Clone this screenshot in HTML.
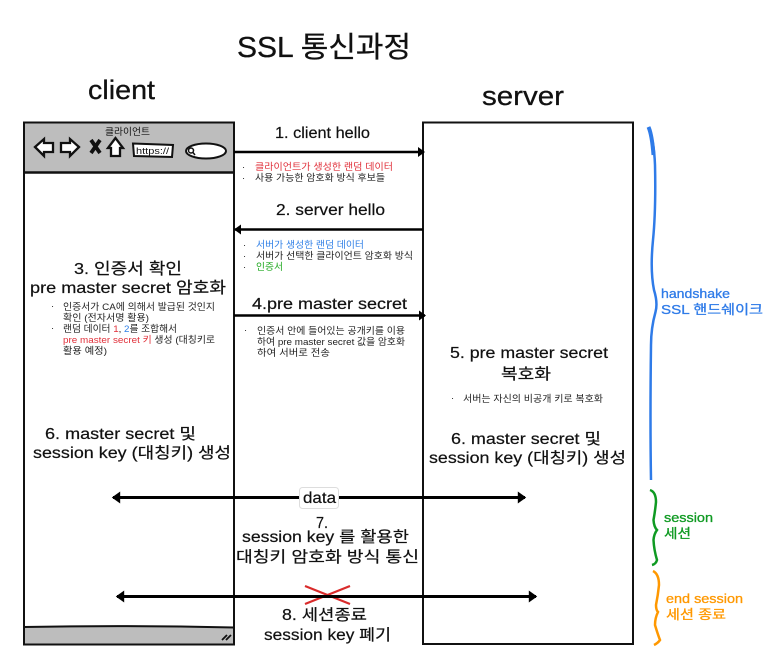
<!DOCTYPE html>
<html><head><meta charset="utf-8"><style>
html,body{margin:0;padding:0;background:#fff;width:772px;height:663px;overflow:hidden}
svg{display:block}
text{font-family:"Liberation Sans","Noto Sans CJK KR",sans-serif;fill:#111}
.s{font-size:9.5px;fill:#222}
.m{font-size:15.5px;stroke:#111;stroke-width:.2px}
.t{stroke:#111;stroke-width:.3px}
.b{stroke:#2f7be8;stroke-width:.3px;fill:#2f7be8}
.g{stroke:#0f9a22;stroke-width:.3px;fill:#0f9a22}
.o{stroke:#ff9800;stroke-width:.3px;fill:#ff9800}
</style></head><body>
<svg width="772" height="663" viewBox="0 0 772 663" xmlns="http://www.w3.org/2000/svg">
<defs>
<marker id="h" markerWidth="5" markerHeight="5" refX="3.600" refY="2.500" orient="auto-start-reverse" markerUnits="strokeWidth"><path d="M1.200 .5L4 2.500L1.200 4.500z" fill="#000"/></marker>
</defs>
<!-- titles -->
<text class="t" x="237" y="57" font-size="29" textLength="174" lengthAdjust="spacingAndGlyphs">SSL 통신과정</text>
<text class="t" x="88" y="99" font-size="27" textLength="67" lengthAdjust="spacingAndGlyphs">client</text>
<text class="t" x="482" y="105" font-size="27" textLength="82" lengthAdjust="spacingAndGlyphs">server</text>
<!-- client box -->
<rect x="24" y="122.500" width="210" height="50" fill="#bdbdbd"/>
<rect x="24" y="627" width="210" height="18" fill="#bdbdbd"/>
<rect x="24" y="122.500" width="210" height="522" fill="none" stroke="#111" stroke-width="2"/>
<path d="M24 172.500H234" stroke="#111" stroke-width="2.500"/>
<path d="M24 627Q130 625 234 627.500" stroke="#111" stroke-width="2" fill="none"/>
<path d="M222 640L227 635M226 640L231 635" stroke="#111" stroke-width="1.800"/>
<!-- header icons -->
<text x="105" y="135" font-size="9.500" textLength="45" lengthAdjust="spacingAndGlyphs" fill="#333">클라이언트</text>
<path d="M35 147L44 139V143H53V152H44V156z" fill="#fff" stroke="#111" stroke-width="2.300"/>
<path d="M79 147L70 139V143H61V152H70V156z" fill="#fff" stroke="#111" stroke-width="2.300"/>
<path d="M91 140L100 153M100 140L91 153" stroke="#111" stroke-width="3.800"/>
<path d="M115.500 138L108 148H111V156H120V148H123z" fill="#fff" stroke="#111" stroke-width="2.300"/>
<path d="M133 143.500L173 145L172 157L134 156z" fill="#fff" stroke="#111" stroke-width="2"/>
<text x="136" y="154" font-size="9.500" textLength="33" lengthAdjust="spacingAndGlyphs">https://</text>
<ellipse cx="206" cy="151" rx="20" ry="7.500" fill="#fff" stroke="#111" stroke-width="2"/>
<circle cx="191" cy="150.500" r="2.500" fill="none" stroke="#111" stroke-width="1.500"/>
<path d="M193 152.500L195 155" stroke="#111" stroke-width="1.500"/>
<!-- server box -->
<rect x="423" y="122.500" width="210" height="521.500" fill="#fff" stroke="#111" stroke-width="2"/>
<!-- left box line redraw -->
<path d="M234 122V645" stroke="#111" stroke-width="2"/>
<!-- arrows -->
<path d="M234 152H424" stroke="#000" stroke-width="2.500" marker-end="url(#h)"/>
<path d="M423 229.500H235" stroke="#000" stroke-width="2.500" marker-end="url(#h)"/>
<path d="M234 315.500H425" stroke="#000" stroke-width="2.500" marker-end="url(#h)"/>
<path d="M113 497.500H525" stroke="#000" stroke-width="3" marker-start="url(#h)" marker-end="url(#h)"/>
<path d="M117 596.500H536" stroke="#000" stroke-width="3" marker-start="url(#h)" marker-end="url(#h)"/>
<path d="M305 586L350 604M305 604L350 586" stroke="#d92b2b" stroke-width="2.200"/>
<path d="M234 596.500H423" stroke="#000" stroke-width="3"/>
<rect x="299.500" y="487.500" width="39" height="21" rx="3" fill="#fff" stroke="#ddd"/>
<text x="303" y="503" class="m" font-size="15" textLength="33" lengthAdjust="spacingAndGlyphs">data</text>
<!-- message labels -->
<text class="m" x="275" y="138" textLength="95" lengthAdjust="spacingAndGlyphs">1. client hello</text>
<text class="m" x="276" y="215" textLength="109" lengthAdjust="spacingAndGlyphs">2. server hello</text>
<text class="m" x="252" y="309" textLength="155" lengthAdjust="spacingAndGlyphs">4.pre master secret</text>
<text class="s" x="242" y="170">·</text>
<text class="s" x="255" y="170" textLength="138" lengthAdjust="spacingAndGlyphs" style="fill:#e0303a">클라이언트가 생성한 랜덤 데이터</text>
<text class="s" x="242" y="181">·</text>
<text class="s" x="255" y="181" textLength="130" lengthAdjust="spacingAndGlyphs">사용 가능한 암호화 방식 후보들</text>
<text class="s" x="243" y="248">·</text>
<text class="s" x="256" y="248" textLength="108" lengthAdjust="spacingAndGlyphs" style="fill:#2f7fe6">서버가 생성한 랜덤 데이터</text>
<text class="s" x="243" y="259">·</text>
<text class="s" x="256" y="259" textLength="157" lengthAdjust="spacingAndGlyphs">서버가 선택한 클라이언트 암호화 방식</text>
<text class="s" x="243" y="270">·</text>
<text class="s" x="256" y="270" textLength="27" lengthAdjust="spacingAndGlyphs" style="fill:#1ea81e">인증서</text>
<text class="s" x="244" y="333">·</text>
<text class="s" x="257" y="334" textLength="148" lengthAdjust="spacingAndGlyphs">인증서 안에 들어있는 공개키를 이용</text>
<text class="s" x="257" y="345" textLength="148" lengthAdjust="spacingAndGlyphs">하여 pre master secret 값을 암호화</text>
<text class="s" x="257" y="356" textLength="73" lengthAdjust="spacingAndGlyphs">하여 서버로 전송</text>
<!-- client text -->
<text class="m" x="74" y="274" font-size="16" style="font-size:16px" textLength="108" lengthAdjust="spacingAndGlyphs">3. 인증서 확인</text>
<text class="m" x="30" y="293" font-size="16" style="font-size:16px" textLength="196" lengthAdjust="spacingAndGlyphs">pre master secret 암호화</text>
<text class="s" x="51" y="309">·</text>
<text class="s" x="63" y="310" textLength="152" lengthAdjust="spacingAndGlyphs">인증서가 CA에 의해서 발급된 것인지</text>
<text class="s" x="63" y="321" textLength="86" lengthAdjust="spacingAndGlyphs">확인 (전자서명 활용)</text>
<text class="s" x="51" y="331">·</text>
<text class="s" x="63" y="332" textLength="114" lengthAdjust="spacingAndGlyphs">랜덤 데이터 <tspan style="fill:#e0303a">1</tspan>, <tspan style="fill:#2f7fe6">2</tspan>를 조합해서</text>
<text class="s" x="63" y="343" textLength="152" lengthAdjust="spacingAndGlyphs"><tspan style="fill:#e0303a">pre master secret 키</tspan> 생성 (대칭키로</text>
<text class="s" x="63" y="354" textLength="44" lengthAdjust="spacingAndGlyphs">활용 예정)</text>
<text class="m" x="45" y="439" textLength="151" lengthAdjust="spacingAndGlyphs">6. master secret 및</text>
<text class="m" x="33" y="458" textLength="198" lengthAdjust="spacingAndGlyphs">session key (대칭키) 생성</text>
<!-- server text -->
<text class="m" x="450" y="358" textLength="158" lengthAdjust="spacingAndGlyphs">5. pre master secret</text>
<text class="m" x="501" y="379" textLength="50" lengthAdjust="spacingAndGlyphs">복호화</text>
<text class="s" x="451" y="401">·</text>
<text class="s" x="463" y="402" textLength="140" lengthAdjust="spacingAndGlyphs">서버는 자신의 비공개 키로 복호화</text>
<text class="m" x="451" y="444" textLength="150" lengthAdjust="spacingAndGlyphs">6. master secret 및</text>
<text class="m" x="429" y="463" textLength="197" lengthAdjust="spacingAndGlyphs">session key (대칭키) 생성</text>
<!-- center text -->
<text class="m" x="316" y="528" textLength="12" lengthAdjust="spacingAndGlyphs">7.</text>
<text class="m" x="242" y="542" textLength="167" lengthAdjust="spacingAndGlyphs">session key 를 활용한</text>
<text class="m" x="236" y="562" textLength="183" lengthAdjust="spacingAndGlyphs">대칭키 암호화 방식 통신</text>
<text class="m" x="282" y="620" textLength="85" lengthAdjust="spacingAndGlyphs">8. 세션종료</text>
<text class="m" x="264" y="640" textLength="127" lengthAdjust="spacingAndGlyphs">session key 폐기</text>
<!-- braces -->
<path d="M648.500 127Q654 140 655 165Q656 210 653 240Q650 270 654 290Q658 303 655.500 312Q651 328 651 345Q650 420 651 480" fill="none" stroke="#2f7be8" stroke-width="2.500"/>
<path d="M648.500 127Q652 135 653.500 155" fill="none" stroke="#2f7be8" stroke-width="4"/>
<path d="M650 490Q656 492 656 502Q655 512 653.500 520Q654 527 657 530Q654 534 653.500 540Q654 550 657 560Q656 564 652 565" fill="none" stroke="#0f9a22" stroke-width="2.500"/>
<path d="M653 571Q659 574 659 585Q658 595 656 605Q656 610 658 612Q655 618 655 625Q658 635 660 640Q658 643 654 645" fill="none" stroke="#ff9800" stroke-width="2.500"/>
<!-- brace labels -->
<text x="661" y="298" font-size="13" textLength="69" lengthAdjust="spacingAndGlyphs" class="b">handshake</text>
<text x="661" y="314" font-size="13" textLength="102" lengthAdjust="spacingAndGlyphs" class="b">SSL 핸드쉐이크</text>
<text x="664" y="522" font-size="13" textLength="49" lengthAdjust="spacingAndGlyphs" class="g">session</text>
<text x="664" y="538" font-size="13" textLength="27" lengthAdjust="spacingAndGlyphs" class="g">세션</text>
<text x="666" y="603" font-size="13" textLength="77" lengthAdjust="spacingAndGlyphs" class="o">end session</text>
<text x="666" y="619" font-size="13" textLength="60" lengthAdjust="spacingAndGlyphs" class="o">세션 종료</text>
</svg>
</body></html>
